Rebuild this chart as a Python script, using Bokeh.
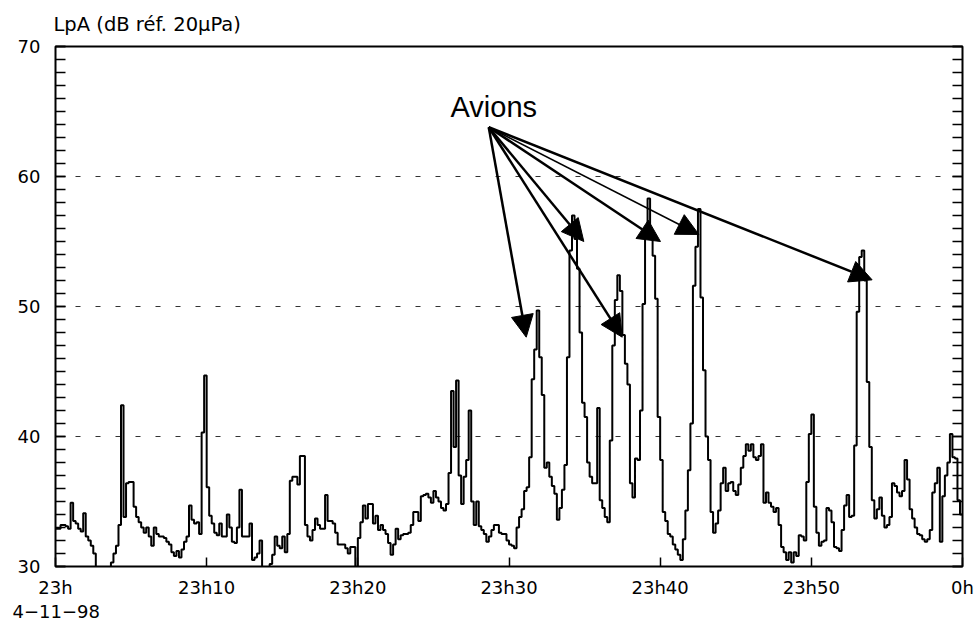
import numpy as np
from bokeh.plotting import figure
from bokeh.models import Range1d, FixedTicker, LinearAxis, Label, Arrow, NormalHead, Title
from bokeh.embed import file_html
from bokeh.resources import INLINE

# ---- data: LpA, one value every 10 s from 23h00 to 0h00 (minutes after 23h) ----
SAMPLE_MIN = 1.0 / 6.0
levels = [
    32.9, 32.9, 33.2, 33.2, 33.1, 32.9, 34.9, 33.5, 33.3, 32.9, 32.7, 34.1,
    32.3, 32.0, 31.6, 31.0, 29.5, 29.0, 29.0, 29.0, 29.0, 29.5, 30.3, 31.0,
    31.6, 33.2, 42.4, 33.8, 36.4, 36.5, 36.5, 34.6, 33.8, 33.4, 33.0, 32.6,
    33.0, 32.3, 31.6, 33.0, 32.5, 32.3, 32.3, 32.2, 31.9, 31.7, 31.1, 30.8,
    31.2, 30.7, 31.3, 31.9, 32.3, 34.7, 33.6, 33.3, 33.4, 32.5, 40.3, 44.7,
    36.1, 33.9, 33.3, 32.6, 32.4, 33.3, 32.3, 32.3, 34.0, 33.0, 31.9, 31.8,
    33.0, 35.9, 32.3, 32.3, 32.3, 33.3, 30.5, 30.7, 31.0, 32.0, 29.5, 29.0,
    29.5, 30.2, 30.9, 32.3, 31.6, 31.4, 32.3, 31.1, 32.5, 36.6, 36.9, 36.9,
    36.3, 38.5, 38.5, 33.2, 32.3, 32.0, 32.8, 33.7, 33.2, 32.9, 32.9, 35.5,
    33.5, 33.5, 33.3, 32.6, 31.7, 31.7, 31.7, 31.4, 31.0, 31.5, 31.5, 29.5,
    32.2, 33.4, 34.7, 33.7, 34.8, 34.8, 33.3, 33.9, 32.8, 33.2, 32.8, 32.5,
    31.8, 30.9, 31.7, 32.9, 32.1, 32.4, 32.5, 32.5, 32.6, 33.2, 34.2, 34.2,
    33.5, 35.4, 35.5, 35.6, 35.3, 34.9, 35.8, 35.3, 35.0, 34.5, 34.3, 34.8,
    37.2, 43.5, 39.2, 44.3, 37.0, 34.8, 36.9, 38.2, 42.0, 35.0, 33.2, 35.0,
    33.1, 32.8, 32.5, 31.9, 32.3, 32.8, 33.2, 33.2, 32.6, 32.5, 32.5, 32.0,
    31.7, 31.6, 31.4, 33.0, 33.8, 34.4, 35.8, 36.1, 38.4, 44.4, 46.7, 49.7,
    46.1, 43.2, 37.6, 38.0, 36.9, 36.2, 35.6, 33.6, 34.5, 35.9, 37.8, 46.1,
    54.3, 57.0, 55.2, 52.9, 48.0, 42.6, 41.5, 38.0, 36.9, 36.4, 36.4, 42.2,
    35.1, 34.5, 33.8, 33.4, 39.7, 47.0, 50.5, 52.4, 51.2, 47.8, 45.6, 44.0,
    36.4, 35.3, 38.3, 38.2, 42.0, 50.2, 55.3, 58.3, 55.8, 53.9, 50.6, 41.5,
    38.2, 34.2, 33.5, 32.5, 32.3, 31.7, 31.3, 30.9, 30.5, 32.1, 34.3, 37.4,
    41.0, 51.6, 54.6, 57.5, 50.7, 45.1, 40.0, 38.2, 34.2, 32.6, 33.3, 34.3,
    36.4, 37.6, 35.8, 36.4, 36.5, 35.8, 35.5, 36.3, 37.6, 38.5, 39.4, 38.9,
    39.4, 38.4, 38.2, 38.5, 39.4, 34.9, 35.7, 34.9, 34.6, 34.2, 34.5, 33.2,
    31.5, 31.1, 30.5, 31.1, 30.3, 31.1, 30.8, 32.4, 32.3, 32.0, 36.5, 40.2,
    41.7, 34.6, 32.6, 31.6, 31.9, 32.0, 34.5, 34.3, 33.4, 31.5, 31.4, 31.2,
    32.8, 34.7, 35.5, 33.8, 33.9, 39.3, 49.6, 53.8, 54.3, 52.0, 44.2, 39.2,
    35.1, 33.7, 34.4, 35.3, 33.9, 33.0, 33.2, 33.8, 36.4, 36.2, 35.7, 35.4,
    35.8, 38.2, 36.7, 34.4, 33.7, 33.0, 32.5, 32.4, 32.1, 31.9, 32.1, 32.8,
    35.7, 36.4, 37.6, 31.9, 35.4, 37.0, 38.0, 40.2, 38.4, 38.3, 35.1, 34.0,
]

x_ticks = [0, 10, 20, 30, 40, 50, 60]
x_tick_labels = ["23h", "23h10", "23h20", "23h30", "23h40", "23h50", "0h"]
y_ticks = [30, 40, 50, 60, 70]
y_minor_ticks = list(range(30, 71))
grid_levels = [40, 50, 60]

y_title = "LpA (dB réf. 20μPa)"
date_text = "4−11−98"
note_text = "Avions"

# arrows: common origin below "Avions", one tip per aircraft peak
arrow_origin_x = 28.66
arrow_origin_y = 63.79
arrow_tip_x = [31.14, 34.95, 37.49, 40.02, 42.56, 54.02]
arrow_tip_y = [47.64, 55.00, 47.64, 55.00, 55.54, 52.05]
arrow_widths = [2.5, 2.5, 2.5, 2.5, 1.5, 2.5]

FONT = "DejaVu Sans"

p = figure(width=975, height=623,
           x_range=Range1d(0, 60), y_range=Range1d(30, 70),
           output_backend="svg", toolbar_location=None)
p.min_border_left = 55
p.min_border_right = 13
p.min_border_top = 46
p.min_border_bottom = 57
p.background_fill_color = "white"
p.border_fill_color = "white"
p.outline_line_color = "black"
p.outline_line_width = 2

# y axis (left)
yax = p.yaxis[0]
yax.ticker = FixedTicker(ticks=y_ticks, minor_ticks=y_minor_ticks)
yax.axis_line_color = None
yax.major_tick_in = 10
yax.major_tick_out = 0
yax.minor_tick_in = 10
yax.minor_tick_out = 0
yax.major_tick_line_width = 1.5
yax.minor_tick_line_width = 1.5
yax.major_tick_line_color = "black"
yax.minor_tick_line_color = "black"
yax.major_label_text_font = FONT
yax.major_label_text_font_size = "18px"
yax.major_label_text_color = "black"
yax.major_label_standoff = 15

# y axis (right, ticks only, empty labels)
rax = LinearAxis(ticker=FixedTicker(ticks=y_ticks, minor_ticks=y_minor_ticks))
rax.axis_line_color = None
rax.major_tick_in = 10
rax.major_tick_out = 0
rax.minor_tick_in = 10
rax.minor_tick_out = 0
rax.major_tick_line_width = 1.5
rax.minor_tick_line_width = 1.5
rax.major_label_overrides = {t: "" for t in y_ticks}
rax.major_label_standoff = 0
p.add_layout(rax, "right")

# x axis
xax = p.xaxis[0]
xax.ticker = FixedTicker(ticks=x_ticks, minor_ticks=[])
xax.major_label_overrides = {t: lab for t, lab in zip(x_ticks, x_tick_labels)}
xax.axis_line_color = None
xax.major_tick_in = 9
xax.major_tick_out = 0
xax.minor_tick_in = 0
xax.minor_tick_out = 0
xax.major_tick_line_width = 1.5
xax.major_label_text_font = FONT
xax.major_label_text_font_size = "18px"
xax.major_label_text_color = "black"
xax.major_label_standoff = 10

# grid
p.xgrid.visible = False
p.ygrid.ticker = FixedTicker(ticks=grid_levels)
p.ygrid.grid_line_color = "#333333"
p.ygrid.grid_line_dash = "5 15"
p.ygrid.grid_line_width = 1

# step trace
xs = np.arange(len(levels) + 1) * SAMPLE_MIN
ys = list(levels) + [levels[-1]]
p.step(xs, ys, mode="after", line_color="black", line_width=2)

# arrows
for tx, ty, w in zip(arrow_tip_x, arrow_tip_y, arrow_widths):
    p.add_layout(Arrow(end=NormalHead(size=22, fill_color="black", line_color="black", line_width=1),
                       x_start=arrow_origin_x, y_start=arrow_origin_y,
                       x_end=tx, y_end=ty, line_color="black", line_width=w))

# texts
p.add_layout(Label(x=26.13, y=65.38, text=note_text, text_font="Liberation Sans",
                   text_font_size="29px", text_color="black", text_baseline="alphabetic"))

p.add_layout(Title(text=y_title, align="left", offset=-2, standoff=21,
                   text_font=FONT, text_font_size="19.5px", text_font_style="normal",
                   text_color="black"), "above")
p.add_layout(Title(text=date_text, align="left", offset=-43, standoff=5,
                   text_font=FONT, text_font_size="18px", text_font_style="normal",
                   text_color="black"), "below")

open("out.html", "w").write(file_html(p, INLINE))
